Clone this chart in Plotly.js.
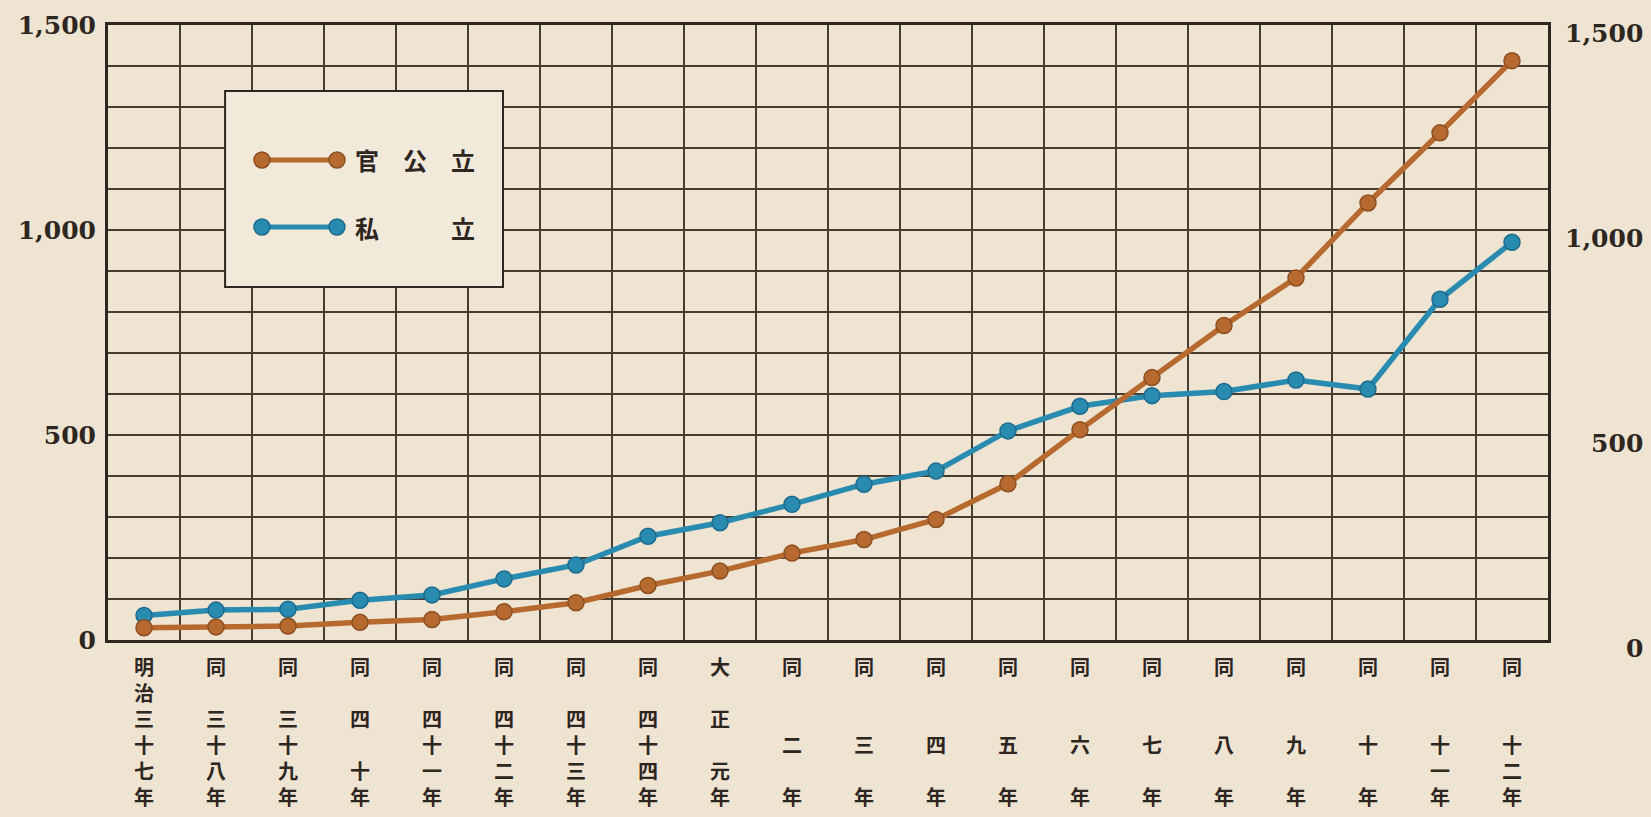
<!DOCTYPE html>
<html><head><meta charset="utf-8">
<script src="https://cdn.plot.ly/plotly-3.0.1.min.js"></script>
<style>html,body{margin:0;padding:0;background:#efe4d2;}#chart{width:1651px;height:817px;}</style>
</head><body><div id="chart"></div>
<script>
const categories = ['明治三十七年','同三十八年','同三十九年','同四十年','同四十一年','同四十二年','同四十三年','同四十四年','大正元年','同二年','同三年','同四年','同五年','同六年','同七年','同八年','同九年','同十年','同十一年','同十二年'];
const tickLabels = [
  '明<br>治<br>三<br>十<br>七<br>年',
  '同<br>　<br>三<br>十<br>八<br>年',
  '同<br>　<br>三<br>十<br>九<br>年',
  '同<br>　<br>四<br>　<br>十<br>年',
  '同<br>　<br>四<br>十<br>一<br>年',
  '同<br>　<br>四<br>十<br>二<br>年',
  '同<br>　<br>四<br>十<br>三<br>年',
  '同<br>　<br>四<br>十<br>四<br>年',
  '大<br>　<br>正<br>　<br>元<br>年',
  '同<br>　<br>　<br>二<br>　<br>年',
  '同<br>　<br>　<br>三<br>　<br>年',
  '同<br>　<br>　<br>四<br>　<br>年',
  '同<br>　<br>　<br>五<br>　<br>年',
  '同<br>　<br>　<br>六<br>　<br>年',
  '同<br>　<br>　<br>七<br>　<br>年',
  '同<br>　<br>　<br>八<br>　<br>年',
  '同<br>　<br>　<br>九<br>　<br>年',
  '同<br>　<br>　<br>十<br>　<br>年',
  '同<br>　<br>　<br>十<br>一<br>年',
  '同<br>　<br>　<br>十<br>二<br>年'
];
const seriesNames = ['官公立', '私立'];
const legendTexts = ['官　公　立', '私　　　立'];
const publicValues = [30, 32, 34, 43, 50, 69, 91, 133, 168, 212, 245, 294, 381, 513, 640, 767, 883, 1066, 1237, 1413];
const privateValues = [60, 73, 75, 97, 110, 149, 183, 253, 286, 331, 380, 412, 510, 570, 596, 606, 634, 612, 831, 970];
const yTickVals = [0, 500, 1000, 1500];
const yTickTextLeft = ['0', '500', '1,000', '1,500'];
const yTickTextRight = ['\u2007\u2007\u2007\u20080', '\u2007\u2008500', '1,000', '1,500'];

const ORANGE = '#b66a2f', ORANGE_D = '#8d4e20';
const BLUE = '#2a8bb0', BLUE_D = '#1d6b8c';
const INK = '#2e2620';
const GRID = '#463c32';

const traces = [
  {x: categories, y: privateValues, name: seriesNames[1], type: 'scatter', mode: 'lines+markers',
   line: {color: BLUE, width: 5.5}, marker: {color: BLUE, size: 16, line: {color: BLUE_D, width: 1.5}},
   showlegend: false, hoverinfo: 'x+y+name'},
  {x: categories, y: publicValues, name: seriesNames[0], type: 'scatter', mode: 'lines+markers',
   line: {color: ORANGE, width: 5.5}, marker: {color: ORANGE, size: 16, line: {color: ORANGE_D, width: 1.5}},
   showlegend: false, hoverinfo: 'x+y+name'},
  {x: categories, y: publicValues, yaxis: 'y2', type: 'scatter', mode: 'lines', opacity: 0,
   showlegend: false, hoverinfo: 'skip'}
];

// legend geometry (paper coords)
const lg = {x0: 0.0813, x1: 0.2743, y0: 0.574, y1: 0.8927, sx0: 0.1069, sx1: 0.1590, tx: 0.170, rows: [0.7805, 0.6715]};
const legendColors = [ORANGE, BLUE];
const legendDark = [ORANGE_D, BLUE_D];
const shapes = [{type: 'rect', xref: 'paper', yref: 'paper', x0: lg.x0, x1: lg.x1, y0: lg.y0, y1: lg.y1,
  fillcolor: '#f1e9da', line: {color: INK, width: 2}, layer: 'above'}];
const annotations = [];
lg.rows.forEach((yy, i) => {
  shapes.push({type: 'line', xref: 'paper', yref: 'paper', x0: lg.sx0, x1: lg.sx1, y0: yy, y1: yy,
    line: {color: legendColors[i], width: 5}, layer: 'above'});
  [lg.sx0, lg.sx1].forEach(cx => shapes.push({type: 'circle', xref: 'paper', yref: 'paper',
    xsizemode: 'pixel', ysizemode: 'pixel', xanchor: cx, yanchor: yy, x0: -8, x1: 8, y0: -8, y1: 8,
    fillcolor: legendColors[i], line: {color: legendDark[i], width: 1.5}, layer: 'above'}));
  annotations.push({xref: 'paper', yref: 'paper', x: lg.tx, y: yy, xanchor: 'left', yanchor: 'middle',
    text: legendTexts[i], showarrow: false,
    font: {family: '"Noto Sans CJK JP", sans-serif', size: 24, color: INK, weight: 700}});
});

const yFont = {family: '"DejaVu Serif", serif', size: 25, color: INK, weight: 700};

const layout = {
  width: 1651, height: 817,
  paper_bgcolor: '#efe4d2', plot_bgcolor: '#efe4d2',
  margin: {l: 108, r: 103, t: 25, b: 177},
  showlegend: false,
  xaxis: {
    type: 'category', range: [-0.5, 19.5], tickvals: categories, ticktext: tickLabels,
    tickson: 'boundaries', showgrid: true, gridcolor: GRID, gridwidth: 1.2,
    ticks: '', showline: true, mirror: true, linecolor: INK, linewidth: 3,
    tickfont: {family: '"Noto Sans CJK JP", sans-serif', size: 20, color: INK, weight: 700},
    tickangle: 0, ticklabelstandoff: 8, zeroline: false
  },
  yaxis: {
    range: [0, 1500], tickmode: 'array', tickvals: yTickVals, ticktext: yTickTextLeft,
    showgrid: true, gridcolor: GRID, gridwidth: 1.7, zeroline: false,
    minor: {tickmode: 'linear', tick0: 0, dtick: 100, showgrid: true, gridcolor: GRID, gridwidth: 1.2, ticks: ''},
    ticks: '', showline: true, mirror: true, linecolor: INK, linewidth: 3,
    tickfont: yFont, ticklabelstandoff: 4
  },
  yaxis2: {
    overlaying: 'y', side: 'right', range: [0, 1500], tickmode: 'array', tickvals: yTickVals,
    ticktext: yTickTextRight, showgrid: false, zeroline: false, showline: false, ticks: '',
    tickfont: yFont, ticklabelstandoff: 16, ticklabelshift: 8
  },
  shapes: shapes,
  annotations: annotations
};

Plotly.newPlot('chart', traces, layout, {displayModeBar: false, staticPlot: true});
</script>
</body></html>
